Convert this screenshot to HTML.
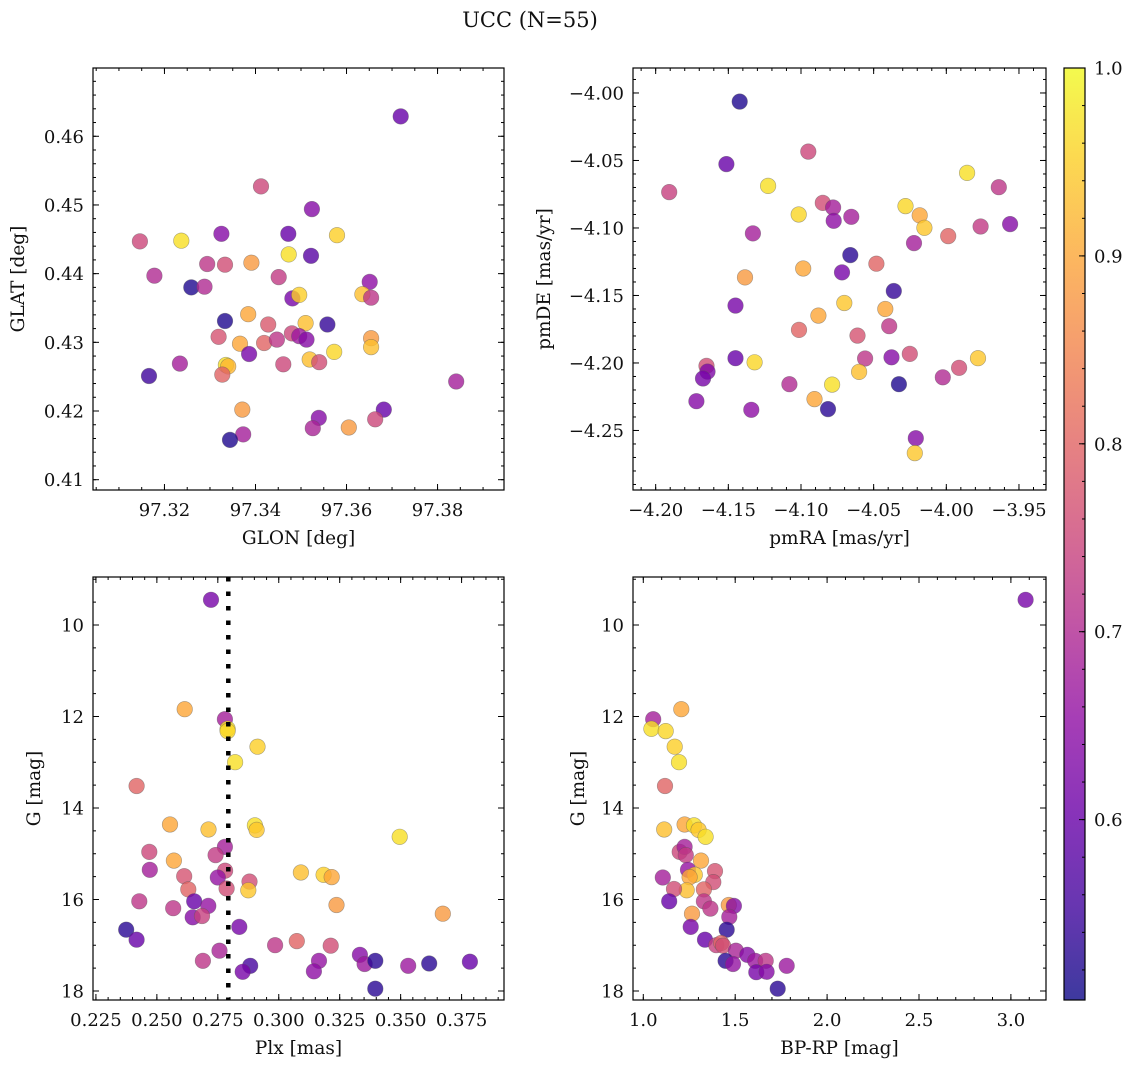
<!DOCTYPE html>
<html><head><meta charset="utf-8"><style>
html,body{margin:0;padding:0;background:#fff;}
svg{display:block;font-family:"DejaVu Serif","Liberation Serif",serif;}
</style></head><body>
<svg id="fig" width="1136" height="1067" viewBox="0 0 1136 1067" xmlns="http://www.w3.org/2000/svg">
<rect width="1136" height="1067" fill="#fff"/>
<text x="530" y="27" font-size="21" text-anchor="middle" fill="#111">UCC (N=55)</text>
</svg>
<script>
// ---- Panel 1: GLON vs GLAT ----
const p1Lon=[97.3719,97.3412,97.3524,97.3146,97.3237,97.3325,97.3472,97.3579,97.3473,97.3522,97.3294,97.3333,97.3391,97.3178,97.3451,97.3259,97.3288,97.3651,97.3481,97.3496,97.3635,97.3654,97.3333,97.3384,97.3428,97.3510,97.3558,97.3319,97.3480,97.3496,97.3512,97.3366,97.3419,97.3447,97.3654,97.3654,97.3386,97.3573,97.3234,97.3461,97.3519,97.3540,97.3335,97.3340,97.3327,97.3166,97.3841,97.3371,97.3682,97.3539,97.3663,97.3526,97.3605,97.3373,97.3344];
const p1Lat=[0.4629,0.4527,0.4494,0.4447,0.4448,0.4458,0.4458,0.4456,0.4428,0.4426,0.4414,0.4413,0.4416,0.4397,0.4395,0.4380,0.4381,0.4388,0.4364,0.4369,0.4370,0.4365,0.4331,0.4341,0.4326,0.4328,0.4326,0.4308,0.4313,0.4309,0.4304,0.4298,0.4299,0.4304,0.4306,0.4293,0.4283,0.4286,0.4269,0.4268,0.4275,0.4271,0.4267,0.4265,0.4253,0.4251,0.4243,0.4202,0.4202,0.4190,0.4188,0.4175,0.4176,0.4166,0.4158];
const p1Prob=[0.60,0.75,0.64,0.75,0.97,0.64,0.60,0.95,0.97,0.58,0.72,0.76,0.88,0.70,0.73,0.52,0.70,0.65,0.62,0.95,0.93,0.72,0.52,0.90,0.78,0.93,0.54,0.77,0.75,0.67,0.64,0.90,0.80,0.72,0.88,0.93,0.62,0.96,0.68,0.75,0.93,0.76,0.97,0.92,0.80,0.55,0.68,0.88,0.60,0.64,0.75,0.69,0.88,0.68,0.52];
const p1XTicks=[97.32,97.34,97.36,97.38];
const p1YTicks=[0.41,0.42,0.43,0.44,0.45,0.46];

// ---- Panel 2: pmRA vs pmDE ----
const p2PmRA=[-4.1422,-4.0950,-4.1513,-4.1907,-4.1226,-3.9857,-3.9639,-4.0850,-4.0779,-4.0775,-4.0654,-4.1016,-4.0281,-4.0183,-4.0151,-3.9987,-3.9764,-3.9561,-4.1331,-4.0222,-4.0661,-4.0481,-4.0985,-4.1385,-4.0718,-4.0361,-4.1451,-4.0702,-4.0420,-4.0880,-4.1014,-4.0393,-4.0611,-4.1451,-4.1319,-4.0559,-4.0377,-4.0251,-3.9782,-4.1650,-4.1643,-4.1674,-4.0600,-4.0024,-3.9912,-4.1080,-4.0786,-4.0326,-4.1720,-4.0907,-4.1342,-4.0814,-4.0210,-4.0217];
const p2PmDE=[-4.0064,-4.0434,-4.0527,-4.0734,-4.0688,-4.0592,-4.0698,-4.0814,-4.0848,-4.0947,-4.0917,-4.0900,-4.0838,-4.0907,-4.0999,-4.1060,-4.0989,-4.0971,-4.1040,-4.1112,-4.1201,-4.1265,-4.1300,-4.1366,-4.1329,-4.1467,-4.1575,-4.1556,-4.1600,-4.1649,-4.1755,-4.1728,-4.1797,-4.1965,-4.1995,-4.1967,-4.1958,-4.1933,-4.1965,-4.2022,-4.2064,-4.2115,-4.2066,-4.2106,-4.2036,-4.2157,-4.2160,-4.2157,-4.2283,-4.2268,-4.2347,-4.2342,-4.2557,-4.2668];
const p2Prob=[0.52,0.75,0.60,0.74,0.97,0.97,0.72,0.76,0.68,0.65,0.68,0.96,0.96,0.90,0.94,0.80,0.73,0.64,0.68,0.68,0.53,0.80,0.90,0.88,0.62,0.54,0.62,0.94,0.90,0.90,0.80,0.72,0.77,0.60,0.96,0.72,0.64,0.76,0.94,0.76,0.63,0.62,0.93,0.70,0.76,0.70,0.97,0.52,0.64,0.90,0.65,0.53,0.64,0.94];
const p2XTicks=[-4.20,-4.15,-4.10,-4.05,-4.00,-3.95];
const p2YTicks=[-4.00,-4.05,-4.10,-4.15,-4.20,-4.25];

// ---- Panel 3: Plx vs G ----
const p3Plx=[0.2722,0.2614,0.2779,0.2790,0.2790,0.2913,0.2821,0.2417,0.2554,0.2712,0.2902,0.2909,0.3496,0.2469,0.2779,0.2741,0.2570,0.2471,0.2612,0.2780,0.2750,0.2880,0.2875,0.3091,0.3184,0.3217,0.2629,0.2786,0.3237,0.2428,0.2653,0.2711,0.2567,0.2647,0.2685,0.3673,0.2374,0.2838,0.2417,0.2985,0.3074,0.3213,0.2757,0.2689,0.3333,0.3165,0.3352,0.3396,0.3531,0.3617,0.3784,0.2883,0.2852,0.3144,0.3396];
const p3G=[9.45,11.84,12.06,12.27,12.32,12.66,13.00,13.52,14.36,14.47,14.38,14.48,14.63,14.96,14.85,15.03,15.15,15.35,15.49,15.37,15.52,15.61,15.80,15.41,15.46,15.51,15.78,15.76,16.12,16.04,16.04,16.14,16.19,16.39,16.36,16.31,16.66,16.60,16.88,17.00,16.91,17.01,17.12,17.34,17.21,17.34,17.41,17.34,17.45,17.40,17.36,17.45,17.58,17.57,17.95];
const p3Prob=[0.62,0.90,0.68,0.97,0.96,0.95,0.97,0.80,0.90,0.93,0.97,0.94,0.97,0.75,0.68,0.73,0.90,0.68,0.77,0.75,0.66,0.76,0.94,0.93,0.95,0.90,0.80,0.76,0.88,0.72,0.60,0.66,0.72,0.64,0.74,0.88,0.53,0.62,0.60,0.72,0.80,0.76,0.69,0.72,0.64,0.66,0.67,0.53,0.67,0.53,0.60,0.56,0.62,0.65,0.53];
const p3PlxLine=0.2793;
const p3XTicks=[0.225,0.250,0.275,0.300,0.325,0.350,0.375];
const p3YTicks=[10,12,14,16,18];

// ---- Panel 4: BP-RP vs G ----
const p4BpRp=[3.080,1.207,1.054,1.044,1.122,1.171,1.194,1.118,1.225,1.114,1.276,1.301,1.339,1.198,1.225,1.231,1.314,1.106,1.390,1.243,1.381,1.280,1.252,1.236,1.167,1.330,1.141,1.330,1.365,1.465,1.493,1.468,1.265,1.454,1.258,1.336,1.397,1.424,1.434,1.504,1.566,1.448,1.488,1.609,1.666,1.615,1.671,1.780,1.731];
const p4G=[9.45,11.84,12.06,12.27,12.32,12.66,13.00,13.52,14.36,14.47,14.38,14.48,14.63,14.96,14.85,15.03,15.15,15.52,15.38,15.35,15.62,15.46,15.51,15.80,15.77,15.78,16.04,16.04,16.20,16.12,16.14,16.38,16.31,16.66,16.60,16.88,17.00,16.95,17.01,17.12,17.21,17.34,17.41,17.34,17.34,17.59,17.58,17.45,17.95];
const p4Prob=[0.62,0.90,0.68,0.97,0.96,0.95,0.97,0.80,0.90,0.93,0.97,0.94,0.97,0.75,0.68,0.73,0.90,0.68,0.77,0.66,0.76,0.94,0.90,0.93,0.76,0.80,0.60,0.72,0.72,0.88,0.64,0.68,0.88,0.53,0.62,0.60,0.74,0.80,0.76,0.69,0.64,0.53,0.66,0.67,0.72,0.62,0.64,0.67,0.53];
const p4XTicks=[1.0,1.5,2.0,2.5,3.0];
const p4YTicks=[10,12,14,16,18];

const cbTicks=[0.6,0.7,0.8,0.9,1.0];
const VMIN=0.504, VMAX=1.0;

const NS="http://www.w3.org/2000/svg";
const svg=document.getElementById('fig');
const TICKFS=18, LABFS=18.5;
const plasmaStops=[[0,13,8,135],[0.1,65,4,157],[0.2,106,0,168],[0.3,143,13,164],[0.4,177,42,144],[0.5,204,71,120],[0.6,225,100,98],[0.7,242,132,75],[0.8,252,166,54],[0.9,252,206,37],[1,240,249,33]];
function plasma(t){
  t=Math.max(0,Math.min(1,t));
  for(let i=1;i<plasmaStops.length;i++){
    const a=plasmaStops[i-1],b=plasmaStops[i];
    if(t<=b[0]){const f=(t-a[0])/(b[0]-a[0]);
      return 'rgb('+[1,2,3].map(k=>Math.round(a[k]+(b[k]-a[k])*f)).join(',')+')';}
  }
  return 'rgb(240,249,33)';
}
function el(tag,attrs,parent){
  const e=document.createElementNS(NS,tag);
  for(const k in attrs) e.setAttribute(k,attrs[k]);
  (parent||svg).appendChild(e);
  return e;
}
function fmtMinus(s){return s.replace('-','\u2212');}

function drawPanel(c){
  const g=el('g',{});
  
  
  const sx=v=>c.L+(v-c.xd[0])/(c.xd[1]-c.xd[0])*(c.R-c.L);
  const sy=v=>c.T+(v-c.yd[0])/(c.yd[1]-c.yd[0])*(c.B-c.T);
  const pg=el('g',{},g);
  
  
  for(let i=0;i<c.xs.length;i++){
    const p=el('circle',{cx:sx(c.xs[i]).toFixed(1),cy:sy(c.ys[i]).toFixed(1),r:7.8,fill:plasma((c.pr[i]-VMIN)/(VMAX-VMIN)),'fill-opacity':0.8,stroke:'#555','stroke-opacity':0.5,'stroke-width':0.6},pg);
    
    
  }
  if(c.vline!==undefined){
    const l=el('line',{x1:sx(c.vline),x2:sx(c.vline),y1:c.T,y2:c.B,stroke:'#000','stroke-width':4.5,'stroke-dasharray':'4.5 10'},g);
    
    
  }
  const f=el('rect',{x:c.L,y:c.T,width:c.R-c.L,height:c.B-c.T,fill:'none',stroke:'#000','stroke-width':1.2},g);
  
  
  const tg=el('g',{stroke:'#000','stroke-width':1},g);
  const eps=1e-9;
  function minors(d,step){const out=[];const lo=Math.min(d[0],d[1]),hi=Math.max(d[0],d[1]);
    for(let v=Math.ceil(lo/step-eps)*step;v<=hi+eps;v+=step) out.push(v);return out;}
  minors(c.xd,c.xminor).forEach(v=>{const x=sx(v);
    el('line',{x1:x,x2:x,y1:c.B,y2:c.B-3},tg);el('line',{x1:x,x2:x,y1:c.T,y2:c.T+3},tg);});
  minors(c.yd,c.yminor).forEach(v=>{const y=sy(v);
    el('line',{x1:c.L,x2:c.L+3,y1:y,y2:y},tg);el('line',{x1:c.R,x2:c.R-3,y1:y,y2:y},tg);});
  c.xt.forEach(v=>{const x=sx(v);
    el('line',{x1:x,x2:x,y1:c.B,y2:c.B-6},tg);el('line',{x1:x,x2:x,y1:c.T,y2:c.T+6},tg);
    const t=el('text',{x:x,y:c.B+26,'font-size':TICKFS,'text-anchor':'middle',fill:'#111'},g);
    t.textContent=fmtMinus(v.toFixed(c.xf));
    
    });
  c.yt.forEach(v=>{const y=sy(v);
    el('line',{x1:c.L,x2:c.L+6,y1:y,y2:y},tg);el('line',{x1:c.R,x2:c.R-6,y1:y,y2:y},tg);
    const t=el('text',{x:c.L-9,y:y+6.5,'font-size':TICKFS,'text-anchor':'end',fill:'#111'},g);
    t.textContent=fmtMinus(v.toFixed(c.yf));
    
    });
  const xl=el('text',{x:(c.L+c.R)/2,y:c.B+54,'font-size':LABFS,'text-anchor':'middle',fill:'#111'},g);
  xl.textContent=c.xlab;
  
  
  const yx=c.ylx, yy=(c.T+c.B)/2;
  const yl=el('text',{x:yx,y:yy,'font-size':LABFS,'text-anchor':'middle',fill:'#111',transform:'rotate(-90 '+yx+' '+yy+')'},g);
  yl.textContent=c.ylab;
  
  
}

drawPanel({name:'glon-glat-panel',L:93,R:504,T:68,B:490,xd:[97.3043,97.3946],yd:[0.46994,0.4085],xs:p1Lon,ys:p1Lat,pr:p1Prob,xt:p1XTicks,yt:p1YTicks,xminor:0.005,yminor:0.002,xf:2,yf:2,xlab:'GLON [deg]',ylab:'GLAT [deg]',ylx:24});
drawPanel({name:'pm-panel',L:633,R:1046,T:68,B:490,xd:[-4.2156,-3.9314],yd:[-3.9815,-4.2941],xs:p2PmRA,ys:p2PmDE,pr:p2Prob,xt:p2XTicks,yt:p2YTicks,xminor:0.01,yminor:0.01,xf:2,yf:2,xlab:'pmRA [mas/yr]',ylab:'pmDE [mas/yr]',ylx:550});
drawPanel({name:'plx-g-panel',L:93,R:504,T:577,B:1000,xd:[0.2238,0.3924],yd:[8.951,18.197],xs:p3Plx,ys:p3G,pr:p3Prob,xt:p3XTicks,yt:p3YTicks,xminor:0.005,yminor:0.5,xf:3,yf:0,xlab:'Plx [mas]',ylab:'G [mag]',ylx:40,vline:p3PlxLine});
drawPanel({name:'cmd-panel',L:633,R:1046,T:577,B:1000,xd:[0.944,3.191],yd:[8.951,18.197],xs:p4BpRp,ys:p4G,pr:p4Prob,xt:p4XTicks,yt:p4YTicks,xminor:0.1,yminor:0.5,xf:1,yf:0,xlab:'BP-RP [mag]',ylab:'G [mag]',ylx:584});

// ---- Colorbar ----
(function(){
  const L=1064,R=1085,T=68,B=1000;
  const defs=el('defs',{});
  const lg=el('linearGradient',{id:'cbg',x1:0,y1:1,x2:0,y2:0},defs);
  for(let i=0;i<=20;i++){el('stop',{offset:(i/20),'stop-color':plasma(i/20)},lg);}
  const g=el('g',{});
  
  
  el('rect',{x:L,y:T,width:R-L,height:B-T,fill:'url(#cbg)','fill-opacity':0.8},g);
  el('rect',{x:L,y:T,width:R-L,height:B-T,fill:'none',stroke:'#000','stroke-width':1.2},g);
  const sy=v=>B-(v-VMIN)/(VMAX-VMIN)*(B-T);
  for(let v=0.52;v<=1.0001;v+=0.02){const y=sy(v);el('line',{x1:R,x2:R-3,y1:y,y2:y,stroke:'#000'},g);}
  cbTicks.forEach(v=>{const y=sy(v);
    el('line',{x1:R,x2:R-6,y1:y,y2:y,stroke:'#000'},g);
    const t=el('text',{x:R+9,y:y+6.5,'font-size':TICKFS,fill:'#111'},g);
    t.textContent=v.toFixed(1);
    
    });
})();
</script>
</body></html>
